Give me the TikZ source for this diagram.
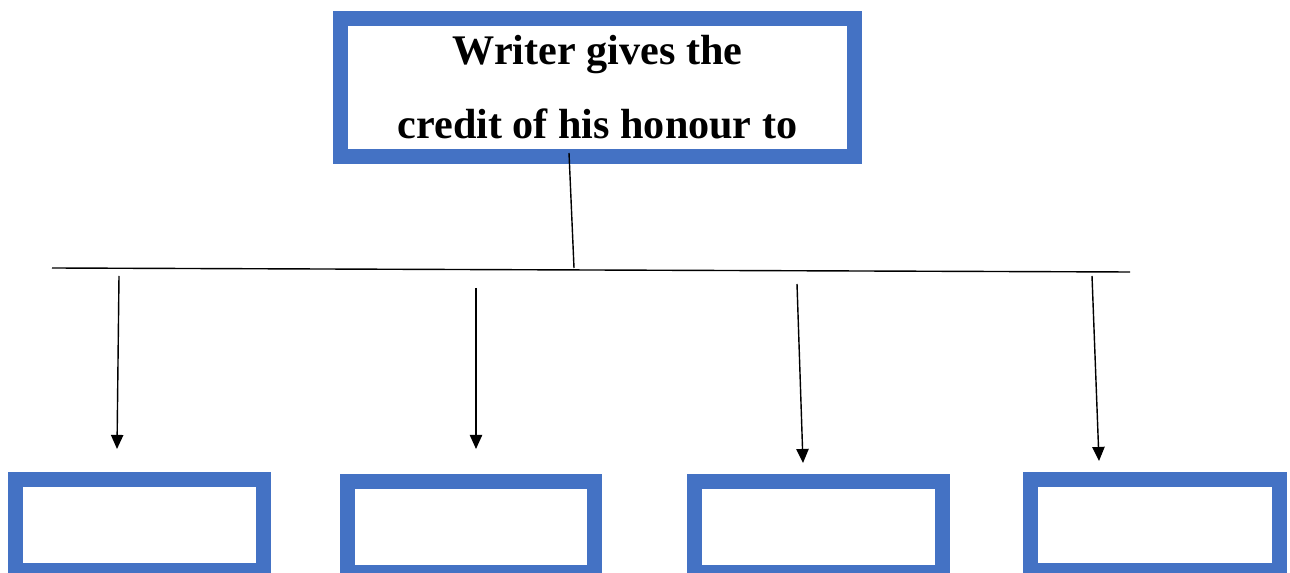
\documentclass[tikz,border=0pt]{standalone}
\usepackage{fontspec}
\setmainfont{Liberation Serif}
\usetikzlibrary{arrows.meta}
\definecolor{boxblue}{HTML}{4472C4}
\tikzset{
  bluebox/.style={draw=boxblue, line width=0.3cm, fill=white, inner sep=0pt},
  link/.style={line width=0.8pt},
  pointer/.style={line width=0.8pt, -{Triangle[width=7pt,length=8pt]}}
}
\begin{document}
\begin{tikzpicture}[x=0.02cm,y=-0.02cm]
      \useasboundingbox (0,0) rectangle (1290,573);
      \draw
        (597.5,87.5) node[bluebox, minimum width=10.3cm, minimum height=2.78cm, align=center,
          font=\fontsize{24}{42}\selectfont\bfseries] (writer){Writer gives the\\credit of his honour to}
        (139.5,525) node[bluebox, minimum width=4.98cm, minimum height=1.84cm] (b1){}
        (471,527) node[bluebox, minimum width=4.96cm, minimum height=1.84cm] (b2){}
        (818.5,527) node[bluebox, minimum width=4.98cm, minimum height=1.84cm] (b3){}
        (1155,525) node[bluebox, minimum width=5cm, minimum height=1.84cm] (b4){};
      \coordinate (stem) at (569,153);
      \coordinate (join) at (574,268);
      \coordinate (left) at (52,268);
      \coordinate (right) at (1130,272);
      \coordinate (s1) at (119,276);
      \coordinate (e1) at (117,449);
      \coordinate (s2) at (476,288);
      \coordinate (e2) at (476,449);
      \coordinate (s3) at (797,284);
      \coordinate (e3) at (803,463);
      \coordinate (s4) at (1092,276);
      \coordinate (e4) at (1099,461);
      \begin{scope}[link]
        \draw (stem) to (join);
        \draw (left) to (right);
      \end{scope}
      \begin{scope}[pointer]
        \draw (s1) to (e1);
        \draw (s2) to (e2);
        \draw (s3) to (e3);
        \draw (s4) to (e4);
      \end{scope}
    \end{tikzpicture}
\end{document}
